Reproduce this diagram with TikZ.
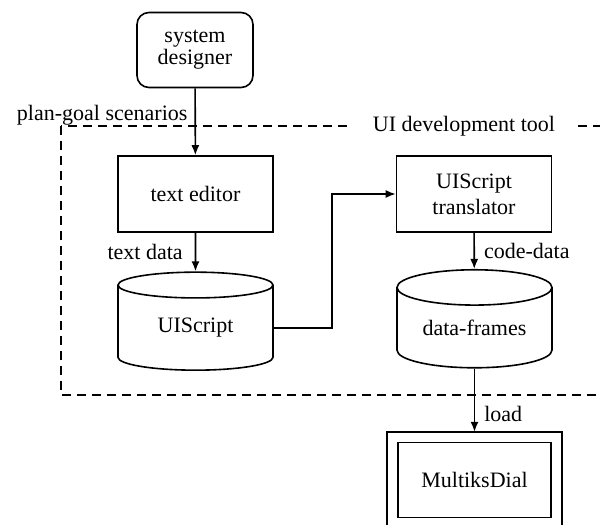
\documentclass[tikz,border=0pt]{standalone}
\usepackage{fontspec}
\setmainfont{Liberation Serif}
\usepackage{tikz}
\usetikzlibrary{shapes.geometric,arrows.meta}
\tikzset{
  unit/.style = {draw=black, line width=0.8pt, align=center, inner sep=0pt, font=\fontsize{11}{13}\selectfont},
  proc/.style = {unit, rectangle, minimum width=77.5pt, minimum height=38pt},
  actor/.style = {unit, rectangle, rounded corners=6pt, minimum width=58pt, minimum height=37.5pt},
  store/.style = {unit, cylinder, shape border rotate=90, aspect=0.34, minimum width=77.5pt, minimum height=49pt},
  app/.style = {unit, rectangle, double=white, double distance=4.6pt, minimum width=82pt, minimum height=42.75pt, outer sep=2.7pt},
  lbl/.style = {font=\fontsize{11}{13}\selectfont, inner sep=0pt},
  flow/.style = {line width=0.8pt, -{Latex[length=5pt,width=4pt]}},
  toolbox/.style = {line width=1.1pt, dash pattern=on 4.5pt off 3pt},
}

\begin{document}
\begin{tikzpicture}[x=0.5pt, y=-0.5pt]
\useasboundingbox (0,0) rectangle (600,525);
\clip (0,0) rectangle (600,525);

% the tool boundary, open past the right edge
\draw [toolbox] (61,126) rectangle (640,395);
\node [lbl, fill=white, inner xsep=11pt, inner ysep=2pt] (tool) at (464,126) {UI development tool};

\node [actor] (designer) at (195,50) {system\\[-2pt]designer};
\node [proc] (editor) at (195.5,194) {text editor};
\node [proc] (trans) at (474,194) {UIScript\\translator};
\node [store] (script) at (195.5,328) {UIScript};
\node [store] (frames) at (474.5,328) {data-frames};
\node [app] (dial) at (474.5,480) {MultiksDial};

\draw [flow] (designer) -- node [lbl, pos=0.4, left=3.5pt] {plan-goal scenarios} (editor);
\draw [flow] (editor) -- node [lbl, left=6pt] {text data} (script);
\draw [flow] (script.east) -- ++(29pt,0) |- (trans.west);
\draw [flow] (trans) -- node [lbl, right=4.5pt] {code-data} (frames);
\draw [flow] (frames) -- node [lbl, pos=0.72, right=4.5pt] {load} (dial);
\end{tikzpicture}
\end{document}
